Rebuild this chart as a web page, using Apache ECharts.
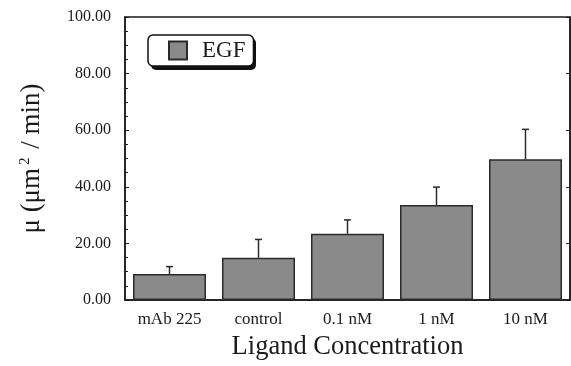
<!DOCTYPE html>
<html>
<head>
<meta charset="utf-8">
<script src="https://cdn.jsdelivr.net/npm/echarts@6/dist/echarts.min.js"></script>
<style>html,body{margin:0;padding:0;background:#fff}#c{width:571px;height:366px}</style>
</head>
<body>
<div id="c"></div>
<script>
const categories = ['mAb 225', 'control', '0.1 nM', '1 nM', '10 nM'];
const egfMeans = [9.2, 14.9, 23.4, 33.6, 49.7];
const egfErrors = [2.6, 6.5, 4.9, 6.3, 10.6];
const yTicks = [0, 20, 40, 60, 80, 100];

const chart = echarts.init(document.getElementById('c'));
const serif = '"Liberation Serif", "DejaVu Serif", serif';
chart.setOption({
  animation: false,
  grid: { left: 125, right: 1, top: 17, bottom: 66, show: true, borderColor: '#1a1a1a', borderWidth: 1.5 },
  graphic: [{
    type: 'rect', left: 151, top: 38, z: 90,
    shape: { width: 105, height: 32, r: 5 },
    style: { fill: '#111' }
  }],
  legend: {
    left: 148, top: 35, z: 100,
    data: [{ name: 'EGF', icon: 'rect' }],
    itemWidth: 18, itemHeight: 18,
    padding: [4, 8, 4, 20],
    backgroundColor: '#fff',
    borderColor: '#111', borderWidth: 1.5, borderRadius: 5,
    textStyle: { fontFamily: serif, fontSize: 23, color: '#1a1a1a', padding: [0, 0, 0, 10] }
  },
  xAxis: {
    type: 'category', data: categories,
    axisLine: { lineStyle: { color: '#1a1a1a', width: 1.5 } },
    axisTick: { show: false },
    axisLabel: { fontFamily: serif, fontSize: 17, color: '#1a1a1a', margin: 11 },
    name: 'Ligand Concentration', nameLocation: 'middle', nameGap: 34,
    nameTextStyle: { fontFamily: serif, fontSize: 26.5, color: '#1a1a1a' }
  },
  yAxis: [{
    type: 'value', min: 0, max: 100, interval: 20,
    axisLine: { show: true, lineStyle: { color: '#1a1a1a', width: 1.5 } },
    axisTick: { show: true, inside: true, length: 4, lineStyle: { color: '#1a1a1a' } },
    minorTick: { show: true, splitNumber: 4, length: 3, lineStyle: { color: '#1a1a1a' } },
    splitLine: { show: false },
    axisLabel: { fontFamily: serif, fontSize: 16, color: '#1a1a1a', margin: 14,
      formatter: v => yTicks.includes(v) ? v.toFixed(2) : '' },
    name: 'μ (μm{sup|2} / min)', nameLocation: 'middle', nameGap: 80,
    nameTextStyle: { fontFamily: serif, fontSize: 27, color: '#1a1a1a',
      rich: { sup: { fontFamily: serif, fontSize: 15, color: '#1a1a1a', verticalAlign: 'top', padding: [0, 2, 12, 3] } } }
  }, {
    type: 'value', min: 0, max: 100, interval: 20, position: 'right',
    axisLine: { show: true, lineStyle: { color: '#1a1a1a', width: 1.5 } },
    axisTick: { show: true, inside: true, length: 4, lineStyle: { color: '#1a1a1a' } },
    axisLabel: { show: false }, splitLine: { show: false }
  }],
  series: [{
    name: 'EGF', type: 'bar', data: egfMeans, barWidth: 73,
    itemStyle: { color: '#8a8a8a', borderColor: '#2a2a2a', borderWidth: 1.5 },
    z: 2
  }, {
    name: 'err', type: 'custom', z: 3,
    data: egfMeans.map((m, i) => [i, m, m + egfErrors[i]]),
    renderItem: (params, api) => {
      const p0 = api.coord([api.value(0), api.value(1)]);
      const p1 = api.coord([api.value(0), api.value(2)]);
      const s = { stroke: '#2a2a2a', lineWidth: 1.5 };
      return { type: 'group', children: [
        { type: 'line', shape: { x1: p0[0], y1: p0[1], x2: p1[0], y2: p1[1] }, style: s },
        { type: 'line', shape: { x1: p1[0] - 3.5, y1: p1[1], x2: p1[0] + 3.5, y2: p1[1] }, style: s }
      ]};
    }
  }]
});
</script>
</body>
</html>
